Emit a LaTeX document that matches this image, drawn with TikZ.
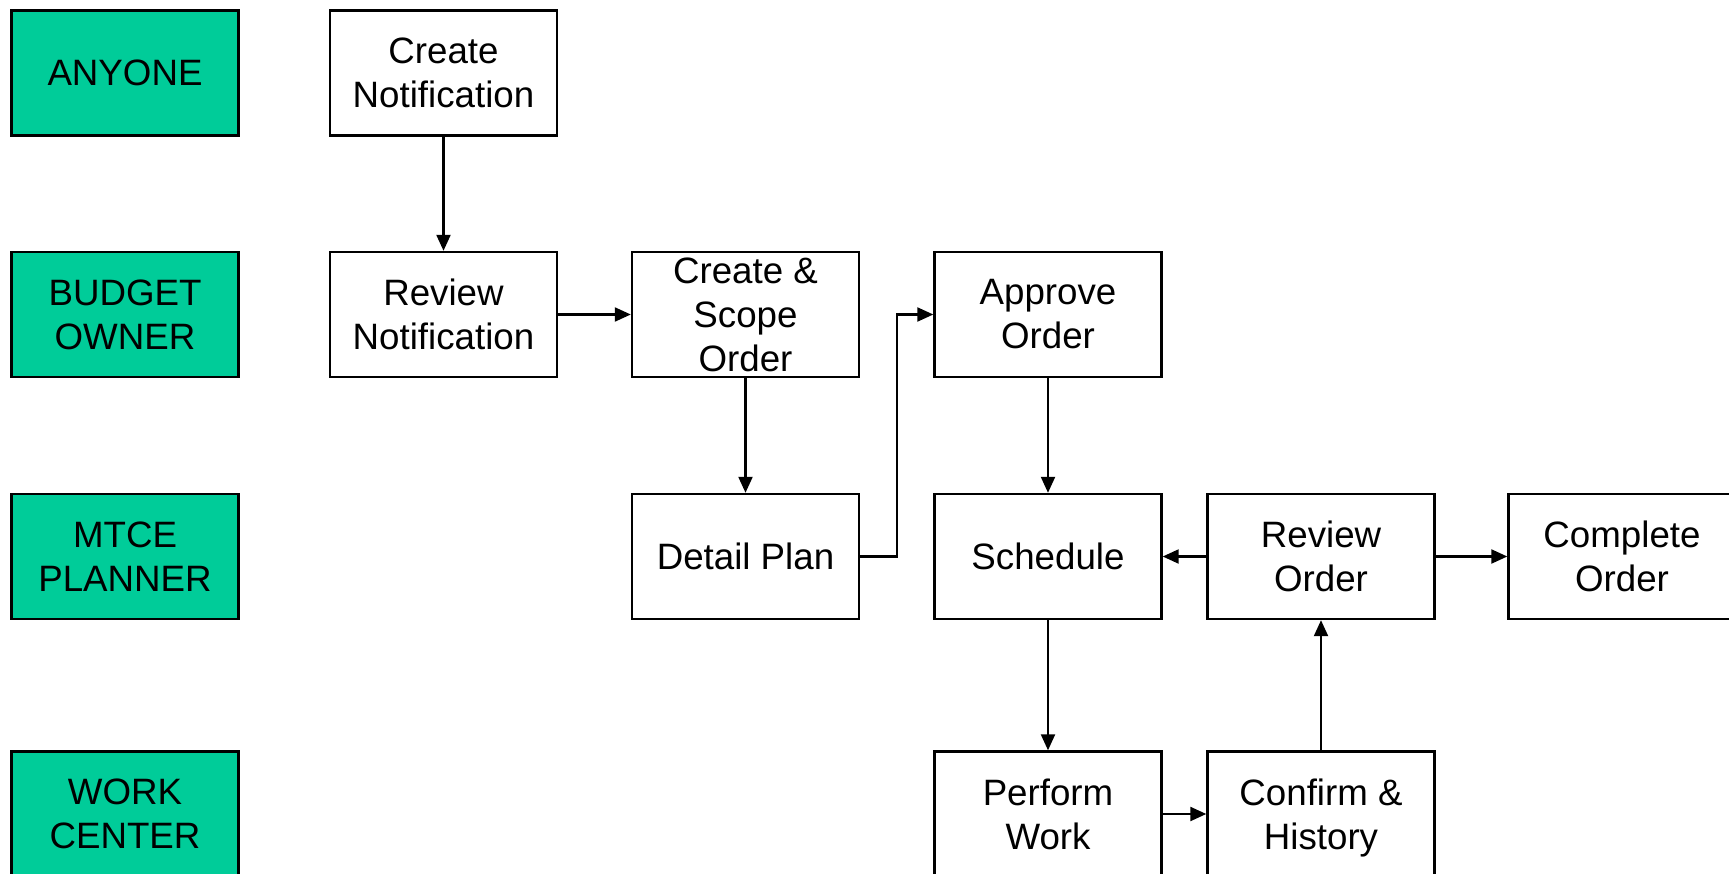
\documentclass[tikz,border=0pt]{standalone}
\usepackage{fontspec}
\setmainfont{Liberation Sans}
\usetikzlibrary{arrows.meta}
\definecolor{lanegreen}{RGB}{0,204,153}
\begin{document}
\begin{tikzpicture}[x=1pt,y=-1pt,
  box/.style={draw=black,line width=2.4pt,fill=white,minimum width=227pt,minimum height=125pt,inner sep=0pt,align=center,
    font=\fontsize{36.7}{44}\selectfont},
  lane/.style={box,fill=lanegreen},
  conn/.style={line width=2.2pt,-{Triangle[length=16pt,width=14pt]}}]
\useasboundingbox (0,0) rectangle (1729,874);
% lanes
\node[lane] (l1) at (125,73) {ANYONE};
\node[lane] (l2) at (125,314.5) {BUDGET\\OWNER};
\node[lane] (l3) at (125,556.5) {MTCE\\PLANNER};
\node[lane] (l4) at (125,814) {WORK\\CENTER};
% process boxes
\node[box] (cn) at (443.5,73) {Create\\Notification};
\node[box] (rn) at (443.5,314.5) {Review\\Notification};
\node[box] (cs) at (745.5,314.5) {Create \&\\Scope\\Order};
\node[box] (ao) at (1048,314.5) {Approve\\Order};
\node[box] (dp) at (745.5,556.5) {Detail Plan};
\node[box] (sc) at (1048,556.5) {Schedule};
\node[box] (ro) at (1321,556.5) {Review\\Order};
\node[box] (co) at (1622,556.5) {Complete\\Order};
\node[box] (pw) at (1048,814) {Perform\\Work};
\node[box] (ch) at (1321,814) {Confirm \&\\Histor\smash{y}};
% connectors
\draw[conn] (cn.south) -- (rn.north);
\draw[conn] (rn.east) -- (cs.west);
\draw[conn] (cs.south) -- (dp.north);
\draw[conn] (dp.east) -- ++(37,0) |- (ao.west);
\draw[conn] (ao.south) -- (sc.north);
\draw[conn] (ro.west) -- (sc.east);
\draw[conn] (ro.east) -- (co.west);
\draw[conn] (sc.south) -- (pw.north);
\draw[conn] (pw.east) -- (ch.west);
\draw[conn] (ch.north) -- (ro.south);
\end{tikzpicture}
\end{document}
